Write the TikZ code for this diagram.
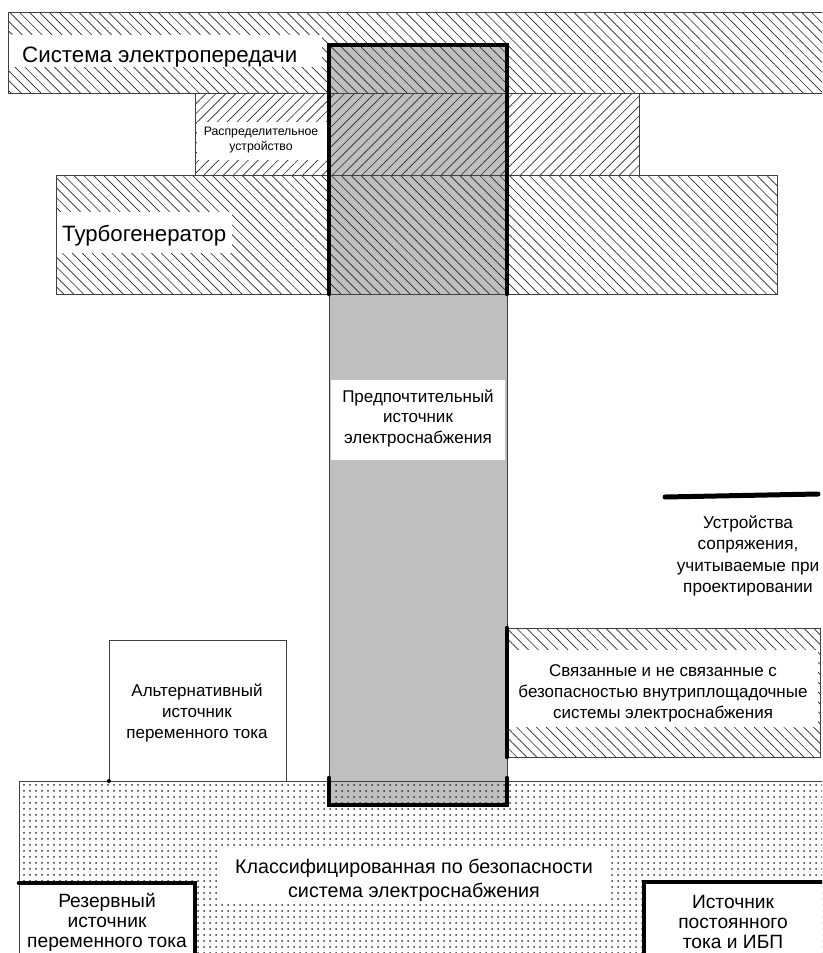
\documentclass[tikz,border=0pt]{standalone}
\usepackage{fontspec}
\setmainfont{Liberation Sans}
\usetikzlibrary{patterns.meta}
\tikzset{
  hatchNW/.style={pattern={Lines[angle=-45,distance=7pt,line width=0.65pt]},pattern color=black!85},
  hatchNE/.style={pattern={Lines[angle=45,distance=7pt,line width=0.65pt]},pattern color=black!85},
  dotted area/.style={pattern={Dots[distance=6pt,radius=1pt]},pattern color=black!80},
  thinborder/.style={draw=black!75,line width=0.8pt},
  thickline/.style={line width=4.5pt,line cap=round,line join=miter},
  whitebox/.style={fill=white,draw=none},
  lbl/.style={align=center,inner sep=0pt,text=black},
}
\begin{document}
\begin{tikzpicture}[x=1pt,y=-1pt]
\useasboundingbox (0,0) rectangle (822,953);
\clip (0,0) rectangle (822,953);
\fill[white] (0,0) rectangle (822,953);
% column fill
\fill[black!25] (329,45) rectangle (507,805);
% hatched bands
\path[hatchNW] (8,12) rectangle (830,93);
\path[hatchNE] (195,93) rectangle (639,175);
\path[hatchNW] (56,175) rectangle (777,294);
\path[hatchNW] (507,628) rectangle (820,757);
% classified dotted area
\path[dotted area] (19,781) rectangle (830,960);
% alternative box
\path[whitebox] (109,640) rectangle (286,781);
% white text areas
\path[whitebox] (8,35) rectangle (322,67);
\path[whitebox] (197,122) rectangle (327,160);
\path[whitebox] (57,212) rectangle (232,253);
\path[whitebox] (331,380) rectangle (505,460);
\path[whitebox] (509,650) rectangle (818,727);
\path[whitebox] (217,850) rectangle (610,900);
\path[whitebox] (19,883) rectangle (195,960);
\path[whitebox] (644,882) rectangle (830,960);
% thin borders
\draw[thinborder] (830,12) -- (8,12) -- (8,93) -- (830,93);
\draw[thinborder] (195,93) rectangle (639,175);
\draw[thinborder] (56,175) rectangle (777,294);
\draw[thinborder] (507,628) rectangle (820,757);
\draw[thinborder] (329,294) -- (329,781) (507,294) -- (507,781);
\draw[thinborder] (109,781) -- (109,640) -- (286,640) -- (286,781);
\draw[thinborder] (19,960) -- (19,781) -- (830,781);
\fill[black] (109,781) circle (2pt);
% thick interface lines
\draw[thickline] (329,294) -- (329,45) -- (507,45) -- (507,294);
\draw[thickline] (329,778) -- (329,805) -- (507,805) -- (507,778);
\draw[thickline] (507,628) -- (507,757);
\draw[thickline] (19,883) -- (195,883) -- (195,960);
\draw[thickline] (644,960) -- (644,882) -- (830,882);
\coordinate (legA) at (665,497);
\coordinate (legB) at (818,494);
\draw[line width=5pt,line cap=round] (legA) -- (legB);
% labels
\node[lbl,anchor=base west,font=\fontsize{22.3}{26}\selectfont] (sys) at (22,62) {Система электропередачи};
\node[lbl,font=\fontsize{12.3}{15}\selectfont] (ru) at (261,140) {Распределительное\\устройство};
\node[lbl,anchor=base west,font=\fontsize{22.2}{26}\selectfont] (tg) at (62,241) {Турбогенератор};
\node[lbl,font=\fontsize{17}{20.5}\selectfont] (pref) at (418,418) {Предпочтительный\\источник\\электроснабжения};
\node[lbl,font=\fontsize{17}{21}\selectfont] (alt) at (197,713) {Альтернативный\\источник\\переменного тока};
\node[lbl,font=\fontsize{17}{21}\selectfont] (rel) at (663,693) {Связанные и не связанные с\\безопасностью внутриплощадочные\\системы электроснабжения};
\node[lbl,font=\fontsize{17.2}{21.3}\selectfont] (leg) at (748,556) {Устройства\\сопряжения,\\учитываемые при\\проектировании};
\node[lbl,font=\fontsize{19.7}{24}\selectfont] (cls) at (414,880) {Классифицированная по безопасности\\система электроснабжения};
\node[lbl,font=\fontsize{19.2}{20}\selectfont] (res) at (107,922) {Резервный\\источник\\переменного тока};
\node[lbl,font=\fontsize{19.2}{20}\selectfont] (dc) at (733,922) {Источник\\постоянного\\тока и ИБП};
\end{tikzpicture}
\end{document}
